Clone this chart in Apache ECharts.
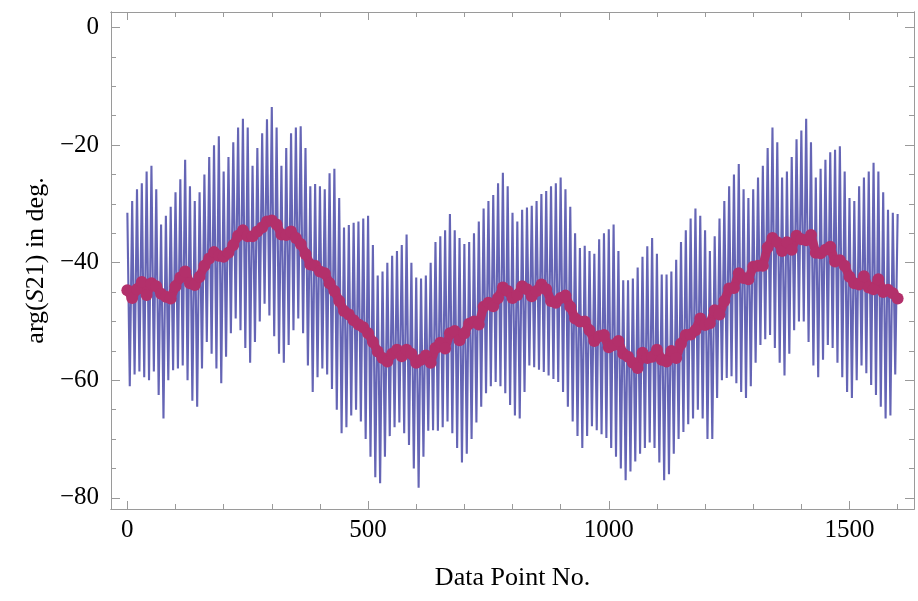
<!DOCTYPE html>
<html>
<head>
<meta charset="utf-8">
<script src="https://cdn.jsdelivr.net/npm/echarts@6/dist/echarts.min.js"></script>
<style>
  html, body { margin: 0; padding: 0; background: #fff; }
  #phase-chart { width: 918px; height: 601px; }
</style>
</head>
<body>
<div id="phase-chart"></div>
<script>
// x ticks / y ticks
const xMajor = [0, 500, 1000, 1500]
const xMinor = [100, 200, 300, 400, 600, 700, 800, 900, 1100, 1200, 1300, 1400, 1600]
const yMajor = [0, -20, -40, -60, -80]
const yMinor = [-5, -10, -15, -25, -30, -35, -45, -50, -55, -65, -70, -75]

// raw trace: peaks at points 0,10,20..1600, troughs at 5,15..1595
const peakStep = 10
const peaks = [
  -31.5, -29.5, -27.5, -26.5, -24.5, -23.5, -27.5, -33.5, -32.0, -30.5,
  -28.0, -25.8, -22.5, -27.0, -29.5, -28.0, -25.0, -22.0, -20.0, -18.5,
  -24.5, -22.0, -19.5, -17.0, -15.5, -17.0, -23.5, -20.5, -18.0, -15.6,
  -13.5, -17.0, -23.5, -20.5, -18.0, -17.0, -16.8, -20.5, -27.0, -26.6,
  -27.0, -27.5, -24.8, -24.0, -29.0, -34.0, -33.6, -33.2, -33.0, -32.5,
  -32.0, -37.0, -42.2, -41.5, -40.0, -38.8, -38.0, -37.0, -35.2, -40.0,
  -42.5, -42.7, -42.2, -40.0, -36.5, -35.5, -34.5, -31.7, -34.5, -35.8,
  -36.8, -36.5, -35.0, -33.0, -30.8, -29.5, -28.5, -26.5, -24.7, -27.0,
  -31.5, -33.0, -31.0, -30.6, -30.3, -29.5, -28.3, -27.8, -27.0, -26.5,
  -25.5, -27.5, -30.5, -35.0, -37.5, -37.1, -38.0, -38.5, -36.0, -35.0,
  -34.3, -33.5, -38.0, -43.0, -43.0, -42.7, -40.8, -39.0, -37.2, -35.8,
  -38.5, -42.0, -42.0, -41.5, -39.5, -36.5, -34.5, -32.5, -30.8, -32.0,
  -34.5, -38.0, -35.5, -32.5, -29.5, -27.0, -25.0, -23.2, -27.5, -29.0,
  -27.5, -25.5, -23.5, -20.5, -17.0, -19.5, -25.5, -24.5, -22.0, -19.0,
  -17.5, -15.5, -19.5, -25.5, -24.0, -22.5, -21.2, -20.8, -20.2, -24.5,
  -29.0, -29.5, -27.0, -25.5, -24.5, -23.0, -24.5, -28.0, -31.0, -31.5,
  -31.7
]
const troughs = [
  -61.0, -59.0, -58.5, -59.5, -60.0, -58.5, -62.5, -66.5, -60.0, -58.3,
  -58.0, -57.5, -60.0, -63.5, -64.5, -58.0, -53.5, -55.5, -58.0, -60.5,
  -56.0, -52.0, -49.5, -51.5, -54.5, -57.0, -53.5, -50.0, -47.0, -49.0,
  -52.5, -55.5, -57.0, -54.0, -51.5, -49.5, -52.0, -57.5, -62.0, -59.5,
  -58.0, -59.0, -61.5, -65.0, -69.0, -68.0, -66.0, -65.0, -67.0, -70.0,
  -73.0, -76.5, -77.5, -73.0, -69.5, -68.0, -67.2, -69.0, -71.0, -75.0,
  -78.3, -73.0, -68.6, -68.5, -68.6, -68.0, -67.0, -69.0, -71.5, -74.0,
  -72.5, -70.0, -67.2, -64.5, -62.2, -61.0, -60.3, -61.0, -62.2, -64.2,
  -66.0, -66.5, -62.0, -57.5, -57.8, -58.2, -58.6, -59.2, -59.8, -60.3,
  -62.0, -64.5, -67.0, -69.5, -71.5, -69.5, -67.8, -68.5, -69.2, -69.8,
  -71.5, -73.0, -75.0, -77.0, -75.5, -73.8, -72.5, -71.5, -70.6, -71.5,
  -74.0, -77.0, -76.0, -72.5, -70.0, -68.8, -67.5, -66.5, -65.0, -66.5,
  -70.0, -70.0, -63.0, -60.0, -59.6, -59.3, -60.5, -62.0, -63.0, -61.0,
  -57.0, -54.0, -53.0, -52.3, -54.5, -57.0, -59.2, -55.5, -51.5, -50.0,
  -50.0, -53.5, -57.5, -59.5, -56.5, -54.0, -54.5, -57.0, -59.5, -62.0,
  -63.0, -60.0, -57.5, -58.8, -60.8, -62.5, -64.5, -66.5, -66.0, -59.0
]

// averaged trace, every 10 points
const avgStep = 10
const averaged = [
  -44.7, -46.0, -44.5, -43.3, -45.5, -43.5, -44.0, -45.3, -45.8, -46.1,
  -44.0, -42.5, -41.5, -43.5, -43.8, -42.4, -40.5, -39.3, -38.2, -38.8,
  -39.0, -38.3, -37.0, -35.4, -34.5, -35.5, -35.5, -34.7, -34.0, -33.0,
  -32.8, -33.5, -35.2, -35.3, -34.7, -35.8, -36.8, -38.5, -40.3, -40.5,
  -41.5, -41.8, -43.5, -44.8, -46.5, -48.2, -48.8, -49.8, -50.5, -51.0,
  -52.0, -53.5, -55.1, -56.2, -56.8, -55.5, -54.8, -55.9, -54.8, -55.5,
  -57.0, -56.5, -55.8, -57.0, -54.5, -53.6, -54.6, -52.0, -51.6, -53.2,
  -52.0, -50.4, -50.0, -50.5, -47.5, -46.8, -47.4, -46.0, -44.2, -44.8,
  -46.0, -45.5, -44.0, -44.5, -45.7, -44.8, -43.7, -44.5, -46.5, -46.8,
  -46.0, -45.6, -47.5, -49.5, -50.0, -50.0, -51.5, -53.3, -52.5, -52.3,
  -54.4, -54.0, -53.3, -55.5, -56.0, -57.0, -57.9, -55.3, -56.2, -56.0,
  -54.8, -56.5, -56.8, -55.0, -56.2, -53.8, -52.3, -52.2, -51.5, -49.5,
  -50.6, -50.3, -48.1, -48.8, -46.5, -44.4, -44.3, -41.8, -42.6, -42.8,
  -40.7, -40.5, -40.5, -37.4, -35.8, -36.5, -38.0, -36.5, -37.8, -35.4,
  -36.0, -36.2, -35.3, -38.3, -38.4, -37.8, -37.3, -39.8, -39.6, -40.5,
  -42.4, -43.5, -43.7, -42.3, -44.2, -44.5, -42.8, -45.0, -44.6, -45.2,
  -46.1
]

const rawData = []
peaks.forEach((p, i) => {
  rawData.push([i * peakStep, p])
  if (i < troughs.length) rawData.push([i * peakStep + peakStep / 2, troughs[i]])
})
const avgData = averaged.map((v, i) => [i * avgStep, v])

const frameColor = '#9a9a9a'
const serif = 'Liberation Serif'
const magenta = '#b3306b'

function xAxisOf(pos, ticks, len, labels, extra) {
  return Object.assign({
    type: 'value',
    position: pos,
    min: -34,
    max: 1634,
    axisLine: { show: true, onZero: false, lineStyle: { color: frameColor, width: 1 } },
    axisTick: { show: true, inside: true, length: len, customValues: ticks, lineStyle: { color: frameColor } },
    axisLabel: labels
      ? { show: true, customValues: ticks, color: '#000', fontFamily: serif, fontSize: 25, margin: 9,
          formatter: v => String(v) }
      : { show: false },
    splitLine: { show: false }
  }, extra || {})
}

function yAxisOf(pos, ticks, len, labels, extra) {
  return Object.assign({
    type: 'value',
    position: pos,
    min: -81.9,
    max: 2.65,
    axisLine: { show: true, onZero: false, lineStyle: { color: frameColor, width: 1 } },
    axisTick: { show: true, inside: true, length: len, customValues: ticks, lineStyle: { color: frameColor } },
    axisLabel: labels
      ? {
          show: true, customValues: ticks, color: '#000', fontFamily: serif, fontSize: 25, margin: 12,
          formatter: v => (v < 0 ? '\u2212' + Math.abs(v) : '' + v)
        }
      : { show: false },
    splitLine: { show: false }
  }, extra || {})
}

const chart = echarts.init(document.getElementById('phase-chart'))

chart.setOption({
  animation: false,
  backgroundColor: '#fff',
  grid: { left: 111, right: 4, top: 12, bottom: 92 },
  xAxis: [
    xAxisOf('bottom', xMajor, 8, true, {
      name: 'Data Point No.',
      nameLocation: 'middle',
      nameGap: 56,
      nameTextStyle: { color: '#000', fontFamily: serif, fontSize: 26 }
    }),
    xAxisOf('bottom', xMinor, 5, false),
    xAxisOf('top', xMajor, 8, false),
    xAxisOf('top', xMinor, 5, false)
  ],
  yAxis: [
    yAxisOf('left', yMajor, 9, true, {
      name: 'arg({i|S}21) in deg.',
      nameLocation: 'middle',
      nameGap: 53,
      nameTextStyle: {
        color: '#000', fontFamily: serif, fontSize: 26,
        rich: { i: { fontStyle: 'italic', fontFamily: serif, fontSize: 26, color: '#000' } }
      }
    }),
    yAxisOf('left', yMinor, 5, false),
    yAxisOf('right', yMajor, 9, false),
    yAxisOf('right', yMinor, 5, false)
  ],
  series: [
    {
      name: 'raw',
      type: 'line',
      data: rawData,
      showSymbol: false,
      symbol: 'none',
      lineStyle: { color: '#3f3fa3', width: 2.1, opacity: 0.8 },
      z: 2
    },
    {
      name: 'averaged',
      type: 'line',
      data: avgData,
      symbol: 'circle',
      symbolSize: 12,
      showSymbol: true,
      itemStyle: { color: magenta, opacity: 1 },
      lineStyle: { color: magenta, width: 9, cap: 'round', join: 'round' },
      z: 3
    }
  ]
})
</script>
</body>
</html>
